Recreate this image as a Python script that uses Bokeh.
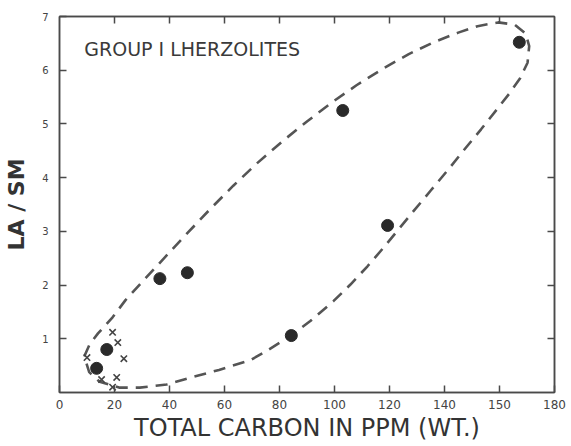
from bokeh.plotting import figure
from bokeh.models import Range1d, LinearAxis, FixedTicker, Label
from bokeh.embed import file_html
from bokeh.resources import INLINE

# Filled circles (Group I lherzolites)
carbon = [13.5, 17.2, 36.5, 46.5, 84.3, 103, 119.3, 167.2]
la_sm = [0.45, 0.80, 2.12, 2.23, 1.06, 5.25, 3.11, 6.52]

# Crosses
x_carbon = [19.3, 21.2, 23.4, 20.8, 15.3, 19.3, 10.0]
x_la_sm = [1.12, 0.93, 0.63, 0.28, 0.24, 0.10, 0.65]

# Dashed envelope
env_x = [9.0, 11.0, 14.0, 19.3, 24.0, 33.5, 44.9, 54.7, 63.2, 71.9, 81.4, 90.1,
         99.6, 108, 118, 127, 136, 145, 152, 159.5, 165.5, 169.5, 170.8, 170.2,
         167.5, 163.5, 159.5, 153.3, 147, 141.2, 135, 128.8, 123, 117.9, 112,
         105.8, 99.6, 91.2, 83.9, 75.5, 69.3, 58, 46.4, 39, 29.2, 21.9, 14.6,
         10.8, 9.0]
env_y = [0.67, 0.90, 1.10, 1.40, 1.72, 2.25, 2.88, 3.41, 3.85, 4.27, 4.69, 5.05,
         5.42, 5.72, 6.04, 6.30, 6.52, 6.70, 6.82, 6.89, 6.85, 6.68, 6.45, 6.14,
         5.85, 5.56, 5.30, 4.90, 4.51, 4.14, 3.76, 3.38, 3.02, 2.70, 2.35, 2.01,
         1.70, 1.33, 1.05, 0.78, 0.60, 0.42, 0.26, 0.15, 0.09, 0.09, 0.20, 0.38,
         0.67]

x_ticks = [0, 20, 40, 60, 80, 100, 120, 140, 160, 180]
x_tick_labels = ["0", "20", "40", "60", "80", "100", "120", "140", "150", "180"]
y_ticks = [1, 2, 3, 4, 5, 6, 7]

ink = "#2a2a2a"
axis_col = "#4a4a4a"
font = "DejaVu Sans"

p = figure(width=568, height=444, x_range=Range1d(0, 180), y_range=Range1d(0, 7),
           output_backend="svg", toolbar_location=None,
           min_border_left=59, min_border_right=14, min_border_top=16,
           min_border_bottom=46)
p.grid.visible = False
p.outline_line_color = axis_col
p.outline_line_width = 1.5
p.background_fill_color = "white"
p.border_fill_color = "white"

xa = p.xaxis[0]
xa.ticker = FixedTicker(ticks=x_ticks)
xa.major_label_overrides = {t: l for t, l in zip(x_ticks, x_tick_labels)}
xa.axis_label = "TOTAL CARBON IN PPM (WT.)"
ya = p.yaxis[0]
ya.ticker = FixedTicker(ticks=y_ticks)
ya.axis_label = "LA / SM"

for ax in (xa, ya):
    ax.axis_line_color = axis_col
    ax.axis_line_width = 1.5
    ax.major_tick_line_color = axis_col
    ax.major_tick_line_width = 1.5
    ax.major_tick_in = 7
    ax.major_tick_out = 0
    ax.minor_tick_line_color = None
    ax.major_label_text_font = font
    ax.major_label_text_color = "#444444"
    ax.axis_label_text_font = font
    ax.axis_label_text_font_style = "normal"
    ax.axis_label_text_color = "#333333"

xa.major_label_text_font_size = "12px"
xa.major_label_standoff = 7
xa.axis_label_text_font_size = "24px"
xa.axis_label_standoff = 2
ya.major_label_text_font_size = "10px"
ya.major_label_standoff = 11
ya.axis_label_text_font_size = "22px"
ya.axis_label_text_font_style = "bold"
ya.axis_label_standoff = 10

top = LinearAxis(ticker=FixedTicker(ticks=x_ticks[1:-1]))
right = LinearAxis(ticker=FixedTicker(ticks=y_ticks[:-1]))
top.major_label_overrides = {t: "" for t in x_ticks}
right.major_label_overrides = {t: "" for t in y_ticks}
for ax in (top, right):
    ax.axis_line_color = axis_col
    ax.axis_line_width = 1.5
    ax.major_tick_line_color = axis_col
    ax.major_tick_line_width = 1.5
    ax.major_tick_in = 7
    ax.major_tick_out = 0
    ax.minor_tick_line_color = None
    ax.major_label_standoff = 0
    ax.axis_label_standoff = 0
p.add_layout(top, "above")
p.add_layout(right, "right")

p.line(env_x, env_y, line_color="#555555", line_width=2.6, line_dash="12 8")
p.scatter(carbon, la_sm, size=12, marker="circle", fill_color=ink, line_color=ink)
p.scatter(x_carbon, x_la_sm, size=9, marker="x", line_color="#444444", line_width=1.6)

p.add_layout(Label(x=9, y=6.39, text="GROUP I LHERZOLITES", text_font=font,
                   text_font_size="19px", text_color="#3a3a3a",
                   text_baseline="middle"))

open("out.html", "w").write(file_html(p, INLINE))
